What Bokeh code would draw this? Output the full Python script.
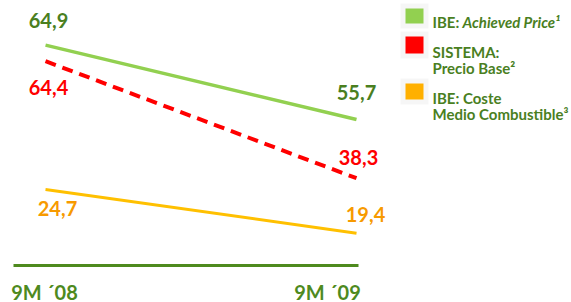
from bokeh.plotting import figure
from bokeh.models import (Range1d, LinearAxis, Label, LabelSet, ColumnDataSource,
                          BoxAnnotation, FixedTicker)
from bokeh.core.properties import value
from bokeh.embed import file_html
from bokeh.resources import INLINE

# ---------------- data ----------------
periods = ["9M ´08", "9M ´09"]
achieved_price = [64.9, 55.7]      # IBE: Achieved Price
precio_base = [64.4, 38.3]         # SISTEMA: Precio Base
coste_combustible = [24.7, 19.4]   # IBE: Coste Medio Combustible

# ---------------- styles ----------------
FONT = "Lato, sans-serif"
GREEN_LINE = "#92d050"
GREEN_TEXT = "#4a7f1f"
AXIS_GREEN = "#4e8a1e"
RED = "#ff0000"
YELLOW_LINE = "#ffc000"
ORANGE_TEXT = "#f79a00"

def fmt(v):
    return f"{v:.1f}".replace(".", ",")

xs = list(range(len(periods)))

p = figure(width=571, height=302, output_backend="svg", toolbar_location=None,
           x_axis_type=None, y_axis_type=None,
           x_range=Range1d(-0.1447, 1.6913), y_range=Range1d(33.04, 70.43),
           min_border=0)
p.extra_y_ranges = {"red": Range1d(10.57, 77.94), "fuel": Range1d(10.995, 47.62)}
p.outline_line_color = None
p.background_fill_color = "white"
p.border_fill_color = "white"

xaxis = LinearAxis(ticker=FixedTicker(ticks=[]), fixed_location=37.62,
                   bounds=(-0.1029, 1.0064))
xaxis.axis_line_color = AXIS_GREEN
xaxis.axis_line_width = 3
xaxis.major_tick_line_color = None
xaxis.minor_tick_line_color = None
xaxis.major_tick_in = 0
xaxis.major_tick_out = 0
xaxis.minor_tick_in = 0
xaxis.minor_tick_out = 0
xaxis.major_label_standoff = 0
xaxis.major_label_text_font_size = "0px"
p.add_layout(xaxis, "below")

p.line(xs, achieved_price, line_color=GREEN_LINE, line_width=3.5)
p.line(xs, precio_base, line_color=RED, line_width=4, line_dash="11 7", y_range_name="red")
p.line(xs, coste_combustible, line_color=YELLOW_LINE, line_width=3, y_range_name="fuel")

def add_values(vals, color, rng, xoff, yoff):
    src = ColumnDataSource(dict(x=xs, y=vals, t=[fmt(v) for v in vals], xo=xoff, yo=yoff))
    kw = {} if rng is None else {"y_range_name": rng}
    ls = LabelSet(x="x", y="y", text="t", source=src, x_offset="xo", y_offset="yo",
                  text_align="center", text_baseline="alphabetic",
                  text_font=value(FONT), text_font_style="bold", text_font_size="20px",
                  text_color=color, **kw)
    p.add_layout(ls)

add_values(achieved_price, GREEN_TEXT, None, [3, 0], [17, 19])
add_values(precio_base, RED, "red", [3, 2], [-34, 13])
add_values(coste_combustible, ORANGE_TEXT, "fuel", [12, 9], [-27, 11])

# category labels under the axis line
cat_xoff = [-1, -29]
for i, lab in enumerate(periods):
    p.add_layout(Label(x=i, y=11, y_units="screen", x_offset=cat_xoff[i], text=lab,
                       text_align="center", text_baseline="alphabetic",
                       text_font=FONT, text_font_style="bold", text_font_size="20px",
                       text_color=AXIS_GREEN))

# legend (drawn manually)
legend_boxes = [(279, 294, GREEN_LINE), (249, 266, RED), (203, 219, "#ffb000")]
for b, t, c in legend_boxes:
    p.add_layout(BoxAnnotation(left=400, right=428, bottom=b - 5, top=t + 5,
                               left_units="screen", right_units="screen",
                               bottom_units="screen", top_units="screen",
                               fill_color="#d0d0d0", fill_alpha=0.2, line_color=None))
    p.add_layout(BoxAnnotation(left=405, right=423, bottom=b, top=t,
                               left_units="screen", right_units="screen",
                               bottom_units="screen", top_units="screen",
                               fill_color=c, fill_alpha=1.0, line_color=None))

legend_texts = [
    (432, 281, "IBE: ", "bold"),
    (462, 281, "Achieved Price¹", "bold italic"),
    (432, 251, "SISTEMA:", "bold"),
    (432, 235, "Precio Base²", "bold"),
    (432, 205, "IBE: Coste", "bold"),
    (432, 189, "Medio Combustible³", "bold"),
]
for x, y, t, st in legend_texts:
    p.add_layout(Label(x=x, y=y, x_units="screen", y_units="screen", text=t,
                       text_align="left", text_baseline="alphabetic",
                       text_font=FONT, text_font_style=st, text_font_size="15px",
                       text_color=GREEN_TEXT))

open("out.html", "w").write(file_html(p, INLINE))
